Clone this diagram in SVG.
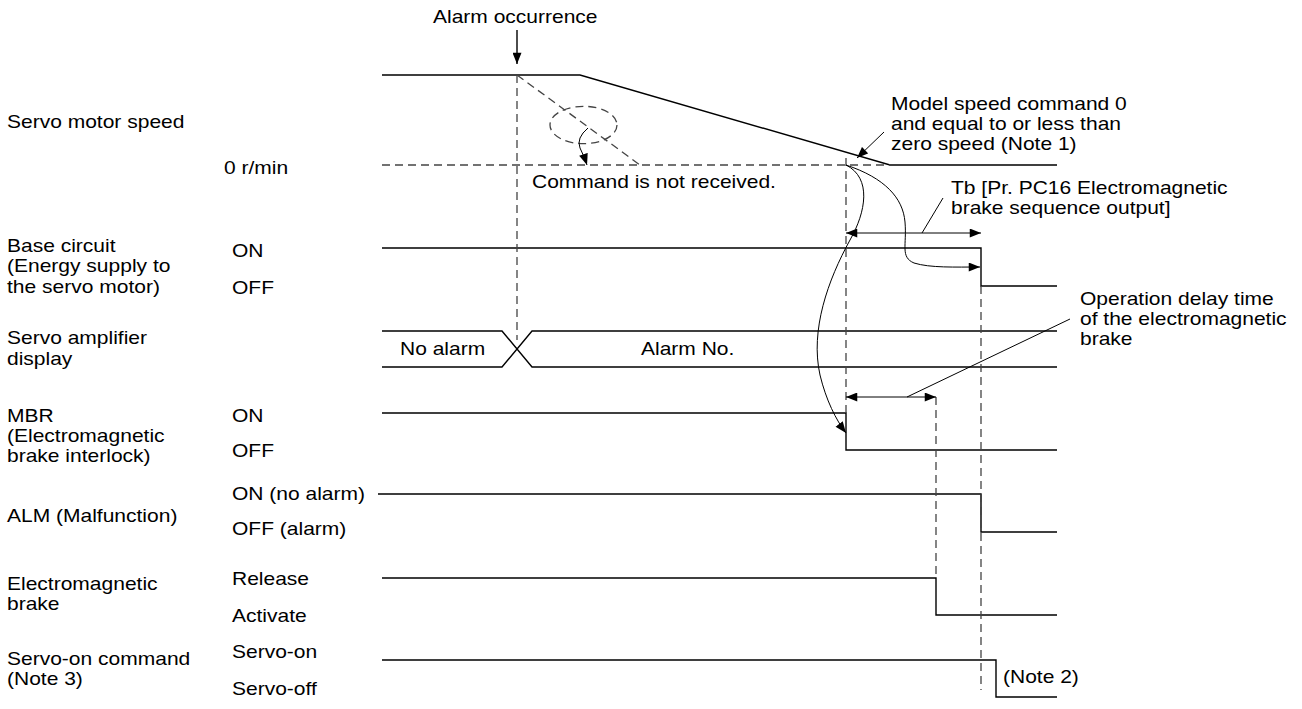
<svg xmlns="http://www.w3.org/2000/svg" width="1302" height="709" viewBox="0 0 1302 709">
<style>
text{font-family:"Liberation Sans",Arial,sans-serif;font-size:18.6px;fill:#000}
.s{fill:none;stroke:#000;stroke-width:1.4}
.t{fill:none;stroke:#000;stroke-width:1}
.d{fill:none;stroke:#444;stroke-width:1.3;stroke-dasharray:8 5}
</style>
<defs>
<marker id="ah" viewBox="0 0 10 8" refX="10" refY="4" markerWidth="12" markerHeight="9" markerUnits="userSpaceOnUse" orient="auto-start-reverse">
<path d="M0,0 L10,4 L0,8 Z" fill="#000"/>
</marker>
</defs>
<rect width="1302" height="709" fill="#fff"/>

<g id="labels">
<text transform="translate(7 128) scale(1.13 1)">Servo motor speed</text>
<text transform="translate(224 174) scale(1.13 1)">0 r/min</text>
<text transform="translate(7 252) scale(1.13 1)">Base circuit</text>
<text transform="translate(7 272) scale(1.13 1)">(Energy supply to</text>
<text transform="translate(7 293) scale(1.13 1)">the servo motor)</text>
<text transform="translate(232 257) scale(1.13 1)">ON</text>
<text transform="translate(232 294) scale(1.13 1)">OFF</text>
<text transform="translate(7 344) scale(1.13 1)">Servo amplifier</text>
<text transform="translate(7 365) scale(1.13 1)">display</text>
<text transform="translate(7 422) scale(1.13 1)">MBR</text>
<text transform="translate(7 442) scale(1.13 1)">(Electromagnetic</text>
<text transform="translate(7 462) scale(1.13 1)">brake interlock)</text>
<text transform="translate(232 422) scale(1.13 1)">ON</text>
<text transform="translate(232 457) scale(1.13 1)">OFF</text>
<text transform="translate(7 522) scale(1.13 1)">ALM (Malfunction)</text>
<text transform="translate(232 500) scale(1.13 1)">ON (no alarm)</text>
<text transform="translate(232 535) scale(1.13 1)">OFF (alarm)</text>
<text transform="translate(7 590) scale(1.13 1)">Electromagnetic</text>
<text transform="translate(7 610) scale(1.13 1)">brake</text>
<text transform="translate(232 585) scale(1.13 1)">Release</text>
<text transform="translate(232 622) scale(1.13 1)">Activate</text>
<text transform="translate(7 665) scale(1.13 1)">Servo-on command</text>
<text transform="translate(7 685) scale(1.13 1)">(Note 3)</text>
<text transform="translate(232 658) scale(1.13 1)">Servo-on</text>
<text transform="translate(232 695) scale(1.13 1)">Servo-off</text>
</g>

<g id="speed">
<polyline class="s" points="382,75 580,75 890,165 1057,165"/>
<line class="d" x1="382" y1="165" x2="890" y2="165"/>
<line class="d" x1="517" y1="75" x2="640" y2="165"/>
<ellipse class="d" cx="583.5" cy="125" rx="33.5" ry="18.7"/>
</g>

<g id="base-circuit">
<polyline class="s" points="382,248 981,248 981,286 1057,286"/>
</g>

<g id="display">
<polyline class="s" points="382,331 502,331 532,367 1057,367"/>
<polyline class="s" points="382,367 502,367 532,331 1057,331"/>
<text transform="translate(400 355) scale(1.13 1)">No alarm</text>
<text transform="translate(641 355) scale(1.13 1)">Alarm No.</text>
</g>

<g id="mbr">
<polyline class="s" points="382,413 846,413 846,450 1057,450"/>
</g>

<g id="alm">
<polyline class="s" points="378,494 981,494 981,532 1057,532"/>
</g>

<g id="brake">
<polyline class="s" points="382,578 936,578 936,615 1057,615"/>
</g>

<g id="servo-on">
<polyline class="s" points="382,660 996,660 996,697 1057,697"/>
<text transform="translate(1003 683) scale(1.13 1)">(Note 2)</text>
</g>

<g id="connectors">
<line class="d" x1="517" y1="75" x2="517" y2="340"/>
<line class="d" x1="846" y1="158" x2="846" y2="413"/>
<line class="d" x1="981" y1="286" x2="981" y2="690"/>
<line class="d" x1="936" y1="397" x2="936" y2="578"/>
<line class="s" x1="517" y1="30" x2="517" y2="64" marker-end="url(#ah)"/>
<path class="t" d="M588,128 Q576,138 580,148 Q584,156 587,165" marker-end="url(#ah)"/>
<line class="t" x1="884" y1="132" x2="857" y2="158" marker-end="url(#ah)"/>
<path class="t" d="M846,165 C872,178 866,212 850,240 C828,280 810,330 820,375 C826,400 836,420 846,433" marker-end="url(#ah)"/>
<path class="t" d="M846,165 C885,178 903,198 905,222 C907,245 900,257 914,263 C930,268 955,267 980,267" marker-end="url(#ah)"/>
<line class="t" x1="846" y1="233" x2="981" y2="233" marker-start="url(#ah)" marker-end="url(#ah)"/>
<line class="t" x1="922" y1="233" x2="943" y2="198"/>
<line class="t" x1="846" y1="397" x2="936" y2="397" marker-start="url(#ah)" marker-end="url(#ah)"/>
<line class="t" x1="907" y1="397" x2="1070" y2="319"/>
</g>

<g id="annotations">
<text transform="translate(433 23) scale(1.13 1)">Alarm occurrence</text>
<text transform="translate(532 188) scale(1.13 1)">Command is not received.</text>
<text transform="translate(891 110) scale(1.13 1)">Model speed command 0</text>
<text transform="translate(891 130) scale(1.13 1)">and equal to or less than</text>
<text transform="translate(891 150) scale(1.13 1)">zero speed (Note 1)</text>
<text transform="translate(951 194) scale(1.13 1)">Tb [Pr. PC16 Electromagnetic</text>
<text transform="translate(951 214) scale(1.13 1)">brake sequence output]</text>
<text transform="translate(1080 305) scale(1.13 1)">Operation delay time</text>
<text transform="translate(1080 325) scale(1.13 1)">of the electromagnetic</text>
<text transform="translate(1080 345) scale(1.13 1)">brake</text>
</g>
</svg>
